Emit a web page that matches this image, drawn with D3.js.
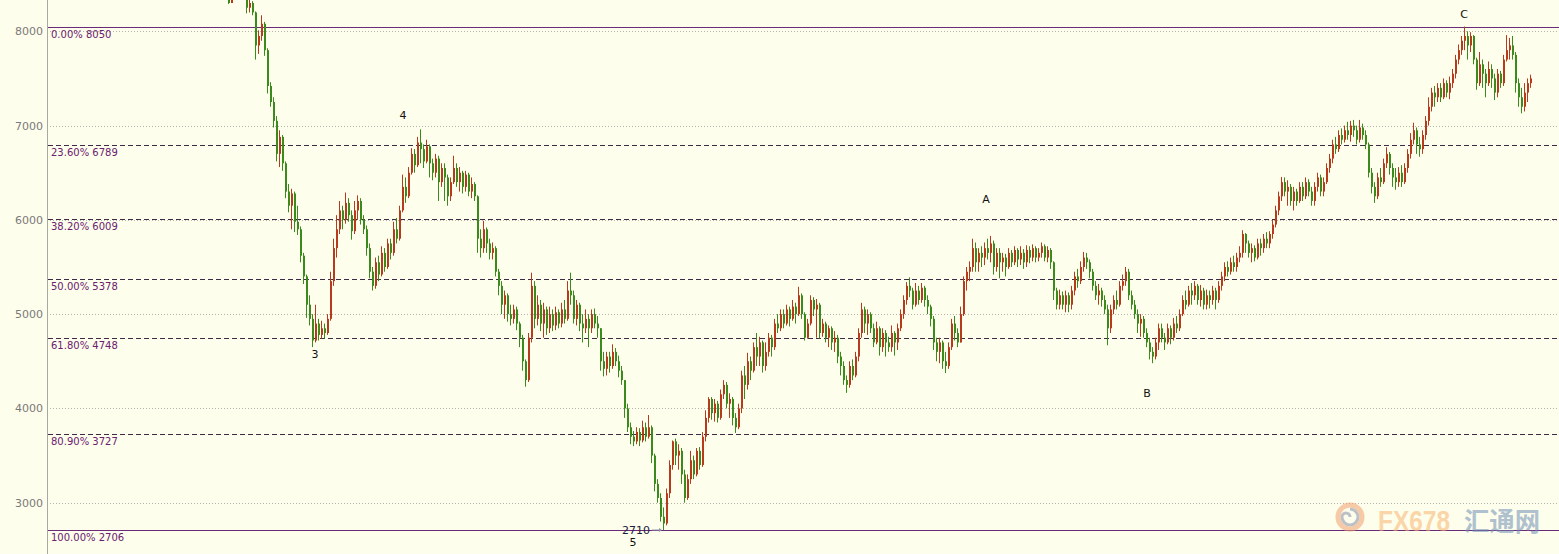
<!DOCTYPE html>
<html><head><meta charset="utf-8">
<script src="https://cdn.jsdelivr.net/npm/d3@7"></script>
<style>html,body{margin:0;padding:0;background:#fefeec;overflow:hidden}svg{display:block}</style>
</head><body><svg id="c" width="1559" height="554"></svg>
<script>
const firstOpen = 8350;
const closes = [
8300,8420,8480,8450,8430,8380,8250,8300,8200,7850,
7950,8080,7800,7420,7250,7050,6700,6880,6600,6300,
6150,6280,5980,5900,5620,5400,5100,4950,4720,4900,
4780,4850,4800,4950,5350,5700,5900,6100,6000,6180,
6050,5880,6100,6200,6000,5900,5700,5450,5300,5550,
5420,5650,5500,5750,5650,5900,5800,6100,6350,6250,
6500,6700,6580,6820,6750,6620,6780,6600,6500,6650,
6400,6550,6450,6250,6400,6550,6400,6500,6350,6480,
6300,6380,6250,5800,5700,5900,5750,5650,5700,5450,
5300,5100,5200,5000,4950,5050,4900,4750,4500,4300,
4750,5300,4950,5100,4900,5050,4850,5000,4880,5020,
4900,5050,4950,5250,5200,4950,5100,4900,4850,4950,
4850,5000,4900,4850,4500,4420,4550,4450,4600,4500,
4400,4300,4000,3800,3700,3650,3750,3660,3800,3700,
3800,3500,3200,3050,2850,2780,3100,3400,3650,3500,
3550,3300,3050,3250,3450,3300,3550,3400,3700,3900,
4100,3950,4050,3900,4150,4250,4050,4100,3900,3800,
4000,4350,4250,4500,4400,4650,4550,4700,4450,4600,
4750,4650,4900,4850,5000,4900,5050,4950,5080,5000,
5200,5000,4750,4900,5150,5050,5100,4800,4900,4750,
4850,4700,4750,4550,4450,4300,4250,4450,4350,4550,
4800,5050,4900,5000,4850,4700,4850,4650,4800,4700,
4650,4800,4700,4850,5000,5150,5300,5250,5100,5250,
5150,5280,5150,5080,4950,4700,4600,4700,4500,4450,
4650,4900,4800,4700,5000,5350,5450,5500,5700,5550,
5650,5600,5700,5650,5750,5500,5650,5550,5600,5500,
5650,5550,5680,5580,5650,5550,5680,5600,5700,5600,
5650,5720,5600,5680,5550,5250,5100,5200,5100,5200,
5100,5250,5400,5350,5500,5600,5550,5450,5300,5200,
5250,5150,5050,4850,5050,5150,5100,5300,5350,5450,
5200,5100,5000,4900,4950,4800,4700,4600,4550,4700,
4850,4750,4700,4850,4750,4900,4850,5000,5150,5100,
5250,5200,5300,5150,5250,5100,5200,5150,5250,5150,
5300,5400,5500,5450,5550,5500,5600,5650,5850,5750,
5650,5700,5600,5750,5700,5800,5750,5850,5950,6100,
6250,6400,6300,6350,6200,6300,6200,6350,6250,6400,
6300,6200,6350,6450,6300,6400,6550,6650,6800,6750,
6900,6850,6950,6900,7000,6950,6850,6980,6900,6800,
6500,6350,6250,6450,6400,6600,6700,6550,6450,6400,
6500,6400,6550,6700,6850,6950,6800,6750,6900,7050,
7200,7350,7300,7400,7300,7450,7350,7450,7550,7700,
7800,7900,7950,7850,7950,7700,7450,7650,7550,7450,
7600,7500,7350,7550,7450,7700,7800,7850,7750,7450,
7300,7200,7350,7450,7500];
const highs = [
8380,8450,8520,8510,8470,8440,8390,8340,8320,8210,
8010,8170,8100,7820,7460,7300,7100,6950,6900,6620,
6380,6330,6300,6150,5930,5650,5420,5200,5000,5100,
4950,4930,4900,5000,5450,5800,6050,6200,6150,6290,
6230,6100,6200,6260,6230,6050,5940,5750,5500,5600,
5620,5720,5700,5800,5800,5980,6020,6150,6480,6450,
6560,6760,6750,6880,6960,6800,6850,6800,6650,6700,
6680,6600,6600,6480,6450,6680,6600,6560,6520,6520,
6500,6450,6400,6260,5900,5990,5920,5800,5760,5720,
5480,5350,5250,5220,5100,5100,5080,4920,4780,4520,
4800,5440,5350,5200,5150,5120,5080,5080,5050,5080,
5050,5120,5150,5350,5440,5250,5150,5120,5000,5050,
5000,5050,5060,4980,4850,4600,4600,4600,4680,4640,
4560,4450,4300,4050,3850,3760,3800,3790,3870,3850,
3930,3820,3520,3250,3100,2950,3150,3450,3660,3680,
3620,3580,3350,3300,3550,3500,3580,3590,3750,3980,
4120,4120,4100,4080,4200,4300,4280,4160,4120,3950,
4050,4400,4450,4590,4550,4700,4800,4760,4720,4700,
4800,4780,4950,5000,5050,5050,5100,5080,5150,5120,
5290,5220,5020,4950,5200,5180,5160,5120,4950,4920,
4880,4870,4820,4780,4600,4500,4350,4500,4520,4600,
4850,5120,5080,5050,5020,4900,4920,4870,4850,4830,
4760,4880,4820,4900,5050,5200,5340,5390,5280,5330,
5300,5330,5300,5200,5100,4980,4750,4750,4720,4600,
4700,4950,4980,4850,5080,5400,5500,5560,5800,5760,
5700,5720,5760,5800,5830,5780,5700,5700,5650,5640,
5700,5680,5720,5700,5720,5690,5730,5720,5740,5720,
5700,5760,5740,5720,5700,5560,5280,5260,5240,5250,
5230,5300,5450,5480,5560,5660,5650,5580,5480,5350,
5320,5280,5200,5100,5100,5200,5250,5350,5420,5500,
5480,5250,5150,5050,5000,4980,4850,4750,4650,4750,
4900,4900,4800,4900,4880,4960,4980,5050,5200,5250,
5300,5330,5350,5320,5310,5280,5260,5250,5300,5280,
5350,5450,5550,5560,5600,5620,5650,5720,5890,5860,
5780,5750,5730,5800,5800,5850,5870,5880,6000,6150,
6300,6455,6450,6420,6380,6350,6330,6400,6400,6450,
6430,6350,6400,6500,6480,6450,6600,6700,6850,6880,
6950,6970,7000,7040,7050,7060,7000,7060,7020,6950,
6820,6550,6400,6500,6550,6650,6770,6720,6600,6550,
6560,6580,6600,6750,6920,7030,6980,6880,6950,7100,
7300,7400,7420,7450,7450,7500,7480,7520,7600,7750,
7860,7950,8050,8000,7990,7960,7720,7780,7700,7600,
7680,7650,7550,7600,7580,7750,7960,7930,7950,7780,
7500,7400,7450,7500,7540];
const lows = [
8290,8330,8400,8400,8370,8340,8190,8200,8170,7700,
7760,7900,7740,7340,7200,6980,6620,6560,6520,6230,
6080,5900,5870,5840,5550,5320,4960,4880,4650,4700,
4720,4740,4740,4780,4930,5300,5600,5850,5900,5960,
5980,5790,5850,6000,5950,5850,5620,5380,5250,5270,
5350,5400,5450,5480,5580,5620,5750,5780,6080,6180,
6230,6480,6500,6560,6600,6550,6600,6450,6420,6450,
6200,6350,6200,6150,6200,6380,6350,6300,6280,6300,
6250,6230,6200,5650,5600,5650,5650,5580,5580,5400,
5200,5000,4950,4920,4880,4900,4830,4650,4400,4230,
4280,4700,4850,4880,4820,4750,4780,4800,4820,4830,
4850,4860,4900,4930,5100,4900,4880,4820,4700,4800,
4650,4800,4850,4750,4400,4340,4350,4380,4420,4450,
4330,4250,3900,3750,3620,3600,3620,3600,3640,3650,
3680,3420,3120,3000,2800,2710,2760,3050,3350,3400,
3350,3200,3000,3030,3200,3250,3280,3350,3380,3650,
3850,3880,3860,3850,3880,4100,4000,3900,3820,3740,
3780,3950,4100,4200,4300,4380,4450,4450,4380,4400,
4550,4550,4620,4800,4820,4850,4880,4870,4930,4900,
4980,4950,4720,4740,4880,4980,4750,4740,4760,4700,
4650,4620,4600,4480,4350,4250,4165,4220,4300,4330,
4500,4750,4800,4780,4800,4650,4680,4560,4600,4550,
4600,4600,4560,4620,4820,4950,5100,5180,5050,5080,
5100,5120,5080,5000,4870,4620,4500,4480,4420,4375,
4420,4620,4720,4650,4700,4980,5250,5350,5450,5450,
5450,5500,5520,5580,5550,5420,5450,5380,5450,5400,
5480,5500,5520,5500,5520,5480,5500,5540,5560,5550,
5560,5600,5560,5550,5480,5150,5050,5050,5050,5020,
5020,5050,5200,5280,5320,5450,5480,5380,5250,5150,
5100,5080,5000,4670,4800,5000,5050,5080,5250,5300,
5150,5050,4950,4800,4760,4750,4650,4520,4480,4520,
4620,4700,4620,4680,4680,4720,4800,4820,4980,5050,
5080,5100,5150,5100,5080,5050,5050,5060,5100,5050,
5120,5250,5350,5400,5420,5450,5450,5550,5600,5650,
5600,5550,5560,5580,5620,5650,5700,5700,5800,5920,
6050,6200,6250,6150,6150,6100,6150,6180,6200,6220,
6250,6150,6150,6300,6250,6250,6380,6500,6600,6700,
6720,6800,6820,6850,6830,6880,6800,6820,6850,6750,
6450,6280,6180,6220,6350,6380,6550,6480,6350,6320,
6350,6350,6380,6500,6650,6800,6700,6670,6700,6850,
7000,7150,7200,7250,7250,7280,7300,7280,7400,7500,
7650,7750,7800,7700,7780,7650,7380,7420,7400,7300,
7420,7400,7270,7300,7400,7420,7680,7700,7700,7350,
7200,7130,7150,7250,7400];

const yTicks = [3000, 4000, 5000, 6000, 7000, 8000];
const fibPct = ["0.00%", "23.60%", "38.20%", "50.00%", "61.80%", "80.90%", "100.00%"];
const fibVal = [8050, 6789, 6009, 5378, 4748, 3727, 2706];
const waveNames = ["3", "4", "5", "A", "B", "C"];
const waveIdx = [29, 58.3, 135, 252.7, 306.3, 412];
const wavePrice = [4567, 7112, 2573, 6211, 4153, 8173];
const lowMarkText = "2710";
const lowMarkIdx = 145;
const lowMarkPrice = 2710;

const W = 1559, H = 554;
const svg = d3.select("#c");
svg.append("rect").attr("width", W).attr("height", H).attr("fill", "#fefeec");

const x = d3.scaleLinear().domain([0, closes.length - 1]).range([228, 1530]);
const y = d3.scaleLinear().domain([3000, 8000]).range([502.7, 31.3]);
const axisX = 47;

svg.append("clipPath").attr("id", "clip").append("rect")
  .attr("x", axisX + 1).attr("y", 0).attr("width", W - axisX).attr("height", H);

// dotted grid
const grid = svg.append("g");
grid.selectAll("line").data(yTicks).join("line")
  .attr("x1", axisX).attr("x2", W)
  .attr("y1", d => Math.round(y(d)) + 0.5).attr("y2", d => Math.round(y(d)) + 0.5)
  .attr("stroke", "#b4b4ac").attr("stroke-width", 1).attr("stroke-dasharray", "1,2");

// axis
const axis = d3.axisLeft(y).tickValues(yTicks).tickSize(0).tickPadding(4).tickFormat(d3.format("d"));
const ag = svg.append("g").attr("transform", `translate(${axisX},0)`).call(axis);
ag.select(".domain").remove();
ag.selectAll("text").attr("fill", "#7a7a7a").style("font-family", "'DejaVu Sans', sans-serif").style("font-size", "11px");
svg.append("line").attr("x1", axisX + 0.5).attr("x2", axisX + 0.5).attr("y1", 0).attr("y2", H)
  .attr("stroke", "#a8a8a0").attr("stroke-width", 1);

// fib lines
const fib = svg.append("g");
fibVal.forEach((v, i) => {
  const yy = Math.round(y(v)) + 0.5;
  const solid = (i === 0 || i === fibVal.length - 1);
  fib.append("line").attr("x1", axisX + 1).attr("x2", W).attr("y1", yy).attr("y2", yy)
    .attr("stroke", solid ? "#6a2a78" : "#3e2a44").attr("stroke-width", 1)
    .attr("stroke-dasharray", solid ? null : "5,3");
  fib.append("text").attr("x", 51).attr("y", yy + 10)
    .attr("fill", "#6a2070").style("font-family", "'DejaVu Sans', sans-serif").style("font-size", "10px")
    .text(fibPct[i] + " " + v);
});

// candles
const data = closes.map((c, i) => {
  const o = i === 0 ? firstOpen : closes[i - 1];
  return { i, o, c, h: Math.max(highs[i], o, c), l: Math.min(lows[i], o, c) };
});
const upCol = "#b83a1c", dnCol = "#3a8a1c";
const cg = svg.append("g").attr("clip-path", "url(#clip)");
const cs = cg.selectAll("g").data(data).join("g");
cs.append("line")
  .attr("x1", d => Math.round(x(d.i)) + 0.5).attr("x2", d => Math.round(x(d.i)) + 0.5)
  .attr("y1", d => y(d.h)).attr("y2", d => y(d.l))
  .attr("stroke", d => d.c >= d.o ? upCol : dnCol).attr("stroke-width", 1);
cs.append("rect")
  .attr("x", d => Math.round(x(d.i)))
  .attr("width", 2)
  .attr("y", d => y(Math.max(d.o, d.c)))
  .attr("height", d => Math.max(1, Math.abs(y(d.o) - y(d.c))))
  .attr("fill", d => d.c >= d.o ? upCol : dnCol);

// wave labels
svg.append("g").selectAll("text").data(waveNames).join("text")
  .attr("x", (d, i) => x(waveIdx[i])).attr("y", (d, i) => y(wavePrice[i]))
  .attr("text-anchor", "middle").attr("dominant-baseline", "central")
  .attr("fill", "#111").style("font-family", "'DejaVu Sans', sans-serif").style("font-size", "11px")
  .text(d => d);

// low mark
const lx = x(lowMarkIdx), ly = y(lowMarkPrice);
svg.append("text").attr("x", lx - 13).attr("y", ly).attr("text-anchor", "end").attr("dominant-baseline", "central")
  .attr("fill", "#1c1c3a").style("font-family", "'DejaVu Sans', sans-serif").style("font-size", "11px")
  .text(lowMarkText);
svg.append("line").attr("x1", lx - 11).attr("x2", lx - 2).attr("y1", ly).attr("y2", ly)
  .attr("stroke", "#9090a8").attr("stroke-width", 1);
svg.append("path").attr("d", `M${lx - 1},${ly} l-3,-2 l0,4 z`).attr("fill", "#9090a8");

// watermark
const wm = svg.append("g").attr("opacity", 0.55);
wm.append("circle").attr("cx", 1350).attr("cy", 517).attr("r", 12).attr("fill", "none")
  .attr("stroke", "#f2a070").attr("stroke-width", 5);
wm.append("path").attr("d", "M1350,509 a8,8 0 1 1 -8,8 a4,4 0 0 1 8,0").attr("fill", "none")
  .attr("stroke", "#8890a8").attr("stroke-width", 3);
wm.append("text").attr("x", 1378).attr("y", 531).attr("textLength", 72).attr("lengthAdjust", "spacingAndGlyphs")
  .style("font-family", "'Liberation Sans', sans-serif").style("font-weight", "bold").style("font-size", "30px")
  .attr("fill", "#f7b570").text("FX678");
wm.append("text").attr("x", 1464).attr("y", 531).attr("textLength", 76).attr("lengthAdjust", "spacingAndGlyphs")
  .style("font-family", "'Noto Sans CJK SC', sans-serif").style("font-weight", "bold").style("font-size", "26px")
  .attr("fill", "#6f8fb8").text("汇通网");
</script></body></html>
